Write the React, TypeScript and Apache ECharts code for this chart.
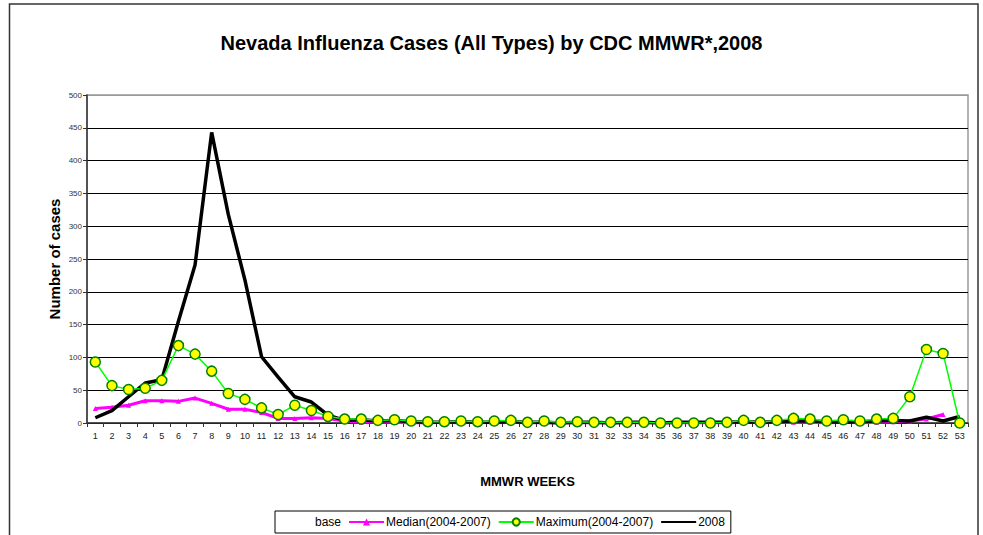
import React, { useEffect, useRef } from "react";
import * as echarts from "echarts";

const weeks: string[] = [];
for (let i = 1; i <= 53; i++) weeks.push(String(i));

const median2004_2007: (number | null)[] = [
  22, 24, 27, 34, 34, 33, 38, 30, 21, 21,
  16, 7, 7, 8, 7, 3, 1, 2, 1, 0,
  0, 1, 0, 1, 0, 1, 0, 0, 0, 0,
  0, 0, 0, 0, 0, 0, 0, 0, 0, 1,
  0, 1, 1, 1, 0, 1, 0, 1, 2, 3,
  6, 13, null,
];

const maximum2004_2007: number[] = [
  93, 57, 51, 53, 65, 118, 105, 79, 45, 36,
  23, 13, 27, 19, 10, 6, 6, 4, 5, 3,
  2, 2, 3, 2, 3, 4, 1, 3, 1, 2,
  1, 1, 1, 1, 0, 0, 0, 0, 1, 4,
  1, 4, 7, 6, 3, 5, 3, 6, 7, 40,
  112, 106, 0,
];

const cases2008: number[] = [
  8, 19, 40, 61, 66, 155, 241, 443, 318, 218,
  101, 70, 40, 32, 12, 4, 5, 3, 4, 2,
  1, 1, 2, 1, 1, 2, 1, 1, 0, 1,
  1, 0, 1, 1, 0, 1, 1, 1, 1, 2,
  1, 2, 3, 3, 2, 1, 2, 3, 4, 3,
  9, 3, 10,
];

const base: number[] = weeks.map(() => 0);

const yTicks = { min: 0, max: 500, interval: 50 };

const FONT = "'Liberation Sans', Arial, sans-serif";

const splitColors = ["#000", "#000", "#000", "#000", "#000", "#000", "#000", "#000", "#000", "#000", "#999"];

export default function App() {
  const ref = useRef<HTMLDivElement>(null);
  useEffect(() => {
    document.body.style.margin = "0";
    if (!ref.current) return;
    const chart = echarts.init(ref.current, null, { renderer: "svg" });
    chart.setOption({
      animation: false,
      backgroundColor: "#ffffff",
      textStyle: { fontFamily: FONT },
      title: {
        text: "Nevada Influenza Cases (All Types) by CDC MMWR*,2008",
        left: "center",
        top: 28,
        textStyle: { fontFamily: FONT, fontSize: 20, fontWeight: "bold", color: "#000" },
      },
      graphic: [
        {
          type: "rect",
          shape: { x: 9.5, y: 4, width: 968.5, height: 560 },
          style: { fill: "none", stroke: "#333", lineWidth: 1.5 },
          silent: true,
        },
      ],
      grid: {
        left: 87,
        right: 15,
        top: 95,
        bottom: 112,
        show: true,
        borderColor: "#999",
        borderWidth: 1.5,
        backgroundColor: "transparent",
      },
      legend: {
        left: 275,
        top: 511,
        padding: [5, 6, 5, 2],
        borderColor: "#000",
        borderWidth: 1,
        itemGap: 7,
        itemWidth: 35,
        itemHeight: 9,
        textStyle: { fontFamily: FONT, fontSize: 12, color: "#000", padding: [0, 0, 0, -3] },
        data: [
          "base",
          "Median(2004-2007)",
          "Maximum(2004-2007)",
          { name: "2008", itemStyle: { opacity: 0 } },
        ],
      },
      xAxis: {
        type: "category",
        data: weeks,
        boundaryGap: true,
        name: "MMWR WEEKS",
        nameLocation: "middle",
        nameGap: 52,
        nameTextStyle: { fontFamily: FONT, fontSize: 13, fontWeight: "bold", color: "#000" },
        axisLine: { lineStyle: { color: "#333", width: 1.5 } },
        axisTick: { show: true, interval: 0, length: 4, lineStyle: { color: "#333" } },
        axisLabel: { interval: 0, fontSize: 9, color: "#222", margin: 8, fontFamily: FONT },
        splitLine: { show: false },
      },
      yAxis: {
        type: "value",
        min: yTicks.min,
        max: yTicks.max,
        interval: yTicks.interval,
        name: "Number of cases",
        nameLocation: "middle",
        nameGap: 25,
        nameMoveOverlap: false,
        nameTextStyle: { fontFamily: FONT, fontSize: 15, fontWeight: "bold", color: "#000" },
        axisLine: { show: true, lineStyle: { color: "#333", width: 1.5 } },
        axisTick: { show: true, length: 4, lineStyle: { color: "#333" } },
        axisLabel: { fontSize: 8, color: "#333", margin: 5, fontFamily: FONT },
        splitLine: { show: true, lineStyle: { color: splitColors, width: 1 } },
      },
      series: [
        {
          name: "base",
          type: "line",
          data: base,
          symbol: "none",
          silent: true,
          lineStyle: { opacity: 0, color: "#ffffff" },
          itemStyle: { color: "#ffffff", opacity: 0 },
          z: 1,
        },
        {
          name: "Median(2004-2007)",
          type: "line",
          data: median2004_2007,
          symbol: "triangle",
          symbolSize: 5,
          lineStyle: { color: "#ff00ff", width: 3 },
          itemStyle: { color: "#ff00ff" },
          z: 2,
        },
        {
          name: "Maximum(2004-2007)",
          type: "line",
          data: maximum2004_2007,
          symbol: "circle",
          symbolSize: 10,
          lineStyle: { color: "#00ff00", width: 1.5 },
          itemStyle: { color: "#ffff00", borderColor: "#008000", borderWidth: 1.5 },
          z: 4,
        },
        {
          name: "2008",
          type: "line",
          data: cases2008,
          symbol: "none",
          lineStyle: { color: "#000000", width: 3.5 },
          itemStyle: { color: "#000000" },
          z: 3,
        },
      ],
    });
    return () => chart.dispose();
  }, []);
  return <div ref={ref} style={{ width: 983, height: 535 }} />;
}
